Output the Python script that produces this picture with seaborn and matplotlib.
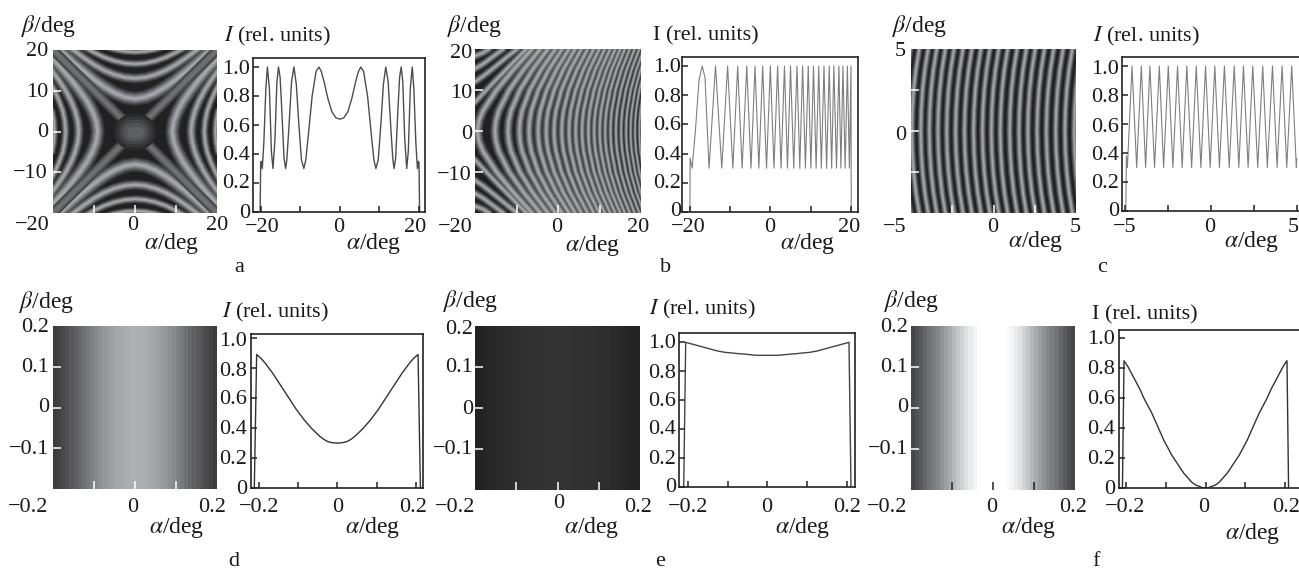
import numpy as np
import matplotlib
matplotlib.use('Agg')
import matplotlib.pyplot as plt
from matplotlib.colors import LinearSegmentedColormap
import seaborn as sns

W, H = 1299, 570

# --- line profiles ---
# a: right half of a symmetric curve
a_alpha = [0, 1, 2, 3, 4, 4.7, 5.3, 6, 7, 8, 8.6, 9.1, 9.7, 10.4, 11, 11.6, 12.2, 12.9, 13.4, 13.7,
           14.1, 14.7, 15.1, 15.5, 15.9, 16.4, 16.9, 17.3, 17.8, 18.3, 18.7, 19.2, 19.6, 19.85, 20, 20.15]
a_int = [.64, .65, .69, .78, .90, .97, 1, .97, .80, .52, .36, .30, .36, .62, .88, 1, .90, .57, .36, .30,
         .37, .72, .93, 1, .90, .50, .30, .42, .85, 1, .85, .48, .30, .35, .34, 0]

b_head_x = [-19.95, -19.9, -19.4, -18.6, -17.7, -16.9, -16.2]
b_head_y = [0, .37, .30, .55, .90, 1, .92]
b_troughs = [-15.2, -12.05, -9.3, -7, -4.8, -2.85, -.95, .9, 2.65, 4.25, 5.8, 7.3, 8.7, 10.05, 11.35,
             12.65, 13.95, 15.2, 16.4, 17.5, 18.55, 19.6]
b_peaks = [-13.6, -10.6, -8.1, -5.85, -3.8, -1.9, 0, 1.8, 3.5, 5, 6.6, 8, 9.4, 10.7, 12, 13.3,
           14.6, 15.75, 17, 18, 19.1, 20]
b_tail_x = [20.03, 20.05]
b_tail_y = [.5, 0]

c_head_x = [-4.95, -4.92, -4.86]
c_head_y = [0, .38, .30]
c_peaks = [-4.59, -4.05, -3.55, -3, -2.48, -1.94, -1.4, -.85, -.31, .23, .79, 1.36, 1.9, 2.44, 3.02, 3.59, 4.15, 4.71]
c_troughs = [-4.32, -3.8, -3.28, -2.75, -2.21, -1.67, -1.12, -.58, -.04, .5, 1.07, 1.63, 2.17, 2.73, 3.29, 3.86, 4.42, 4.98]

# d, e, f: half profiles, same cells feed the heatmaps
cell_alpha = [.005, .015, .025, .035, .045, .055, .065, .075, .085, .095,
              .105, .115, .125, .135, .145, .155, .165, .175, .185, .195]
d_int = [.30, .303, .31, .325, .345, .37, .395, .425, .455, .49, .525, .565, .605, .645, .685, .725, .765, .80, .835, .865]
e_int = [.91, .91, .91, .912, .915, .918, .92, .922, .925, .928, .93, .935, .94, .947, .955, .962, .97, .977, .985, .992]
f_int = [0, .01, .02, .04, .07, .10, .14, .18, .22, .27, .32, .38, .44, .50, .55, .60, .66, .71, .76, .81]
d_edge = [(.206, .89), (.212, 0)]
e_edge = [(.205, 1.0), (.21, 0)]
f_edge = [(.205, .85), (.209, 0)]

# --- bright fringes in the images (deg) ---
# a: right half of each fringe above the centre, left/right ones as alpha against beta
a_step = [0, 2.5, 5, 7.5, 10, 12.5, 15, 17.5, 20]
a_top = [[8.06, 8.44, 9.49, 10.97, 12.8, 14.84, 17, 19.3, 21.6],
         [13.04, 13.28, 13.96, 15, 16.4, 18.1, 19.95, 21.8],
         [16.58, 16.77, 17.32, 18.2, 19.4, 20.8],
         [19.5, 19.65, 20.1, 20.9]]
a_side = [[9.11, 9.45, 10.4, 11.75, 13.5, 15.4, 17.5, 19.8, 22],
          [13.7, 13.94, 14.6, 15.6, 16.9, 18.5, 20.3],
          [16.9, 17.1, 17.6, 18.5, 19.6, 20.9],
          [19.6, 19.75, 20.2]]
a_top_width = [14, 10, 8, 7]
a_side_width = [14, 10, 8, 7]

# b: upper half of each fringe, alpha at these beta values
b_beta = [0, 2.5, 5, 10, 15, 20]
b_fringes = [
    [-19.4, -19.04, -18.05, -14.81, -10.71, -6.23], [-15.2, -14.96, -14.26, -11.76, -8.28, -4.25],
    [-12.05, -11.86, -11.29, -9.17, -6.11, -2.42], [-9.3, -9.13, -8.64, -6.79, -4.03, -.62],
    [-7, -6.85, -6.41, -4.74, -2.19, 1], [-4.8, -4.67, -4.27, -2.74, -.37, 2.63],
    [-2.85, -2.73, -2.36, -.93, 1.28, 4.13], [-.95, -.84, -.49, .84, 2.93, 5.64],
    [.9, 1.01, 1.33, 2.58, 4.56, 7.15], [2.65, 2.75, 3.05, 4.24, 6.12, 8.6],
    [4.25, 4.35, 4.64, 5.76, 7.57, 9.95], [5.8, 5.89, 6.17, 7.25, 8.98, 11.28],
    [7.3, 7.39, 7.65, 8.69, 10.35, 12.57], [8.7, 8.78, 9.04, 10.04, 11.65, 13.8],
    [10.05, 10.13, 10.38, 11.34, 12.9, 15], [11.35, 11.43, 11.67, 12.6, 14.1, 16.1],
    [12.65, 12.73, 12.96, 13.86, 15.33, 17.3], [13.95, 14.02, 14.25, 15.12, 16.55, 18.47],
    [15.2, 15.27, 15.49, 16.34, 17.73, 19.6], [16.4, 16.47, 16.68, 17.51, 18.87, 20.7],
    [17.5, 17.57, 17.77, 18.59, 19.9, 21.7], [18.55, 18.62, 18.82, 19.61, 20.9, 22.65],
    [19.6, 19.67, 19.86, 20.64, 21.9, 23.63],
]
# b: fringes leaving the left edge near the corners
b_corner_x = [[-20, -18, -15, -12, -9, -7.6], [-20, -18, -15, -12, -9.8], [-20, -18, -16, -13.2], [-20, -18, -16.6]]
b_corner_y = [[7, 9.2, 12.4, 15.5, 18.6, 20], [12, 13.4, 15.8, 18.3, 20], [15.2, 16.4, 17.9, 20], [18.3, 19.1, 20]]

# c: upper half of each fringe, alpha at these beta values
c_beta = [0, 1.25, 2.5, 3.75, 5]
c_fringes = [
    [-5.49, -5.46, -5.38, -5.24, -5.04], [-4.95, -4.92, -4.84, -4.7, -4.5], [-4.41, -4.38, -4.3, -4.16, -3.96],
    [-3.89, -3.86, -3.78, -3.64, -3.44], [-3.37, -3.34, -3.26, -3.12, -2.92], [-2.84, -2.81, -2.73, -2.59, -2.39],
    [-2.3, -2.27, -2.19, -2.05, -1.85], [-1.76, -1.73, -1.65, -1.51, -1.31], [-1.21, -1.18, -1.1, -.96, -.76],
    [-.67, -.64, -.56, -.42, -.22], [-.13, -.1, -.02, .12, .32], [.41, .44, .52, .66, .86],
    [.98, 1.01, 1.09, 1.23, 1.43], [1.54, 1.57, 1.65, 1.79, 1.99], [2.08, 2.11, 2.19, 2.33, 2.53],
    [2.64, 2.67, 2.75, 2.89, 3.09], [3.2, 3.23, 3.31, 3.45, 3.65], [3.77, 3.8, 3.88, 4.02, 4.22],
    [4.33, 4.36, 4.44, 4.58, 4.78], [4.89, 4.92, 5, 5.14, 5.34],
]

sns.set_style('white')
plt.rcParams['font.family'] = ['Liberation Serif', 'DejaVu Serif']
plt.rcParams['mathtext.fontset'] = 'stix'

fig = plt.figure(figsize=(W / 100, H / 100), dpi=100)
fringe_cmap = LinearSegmentedColormap.from_list(
    'fringe', [(0, '#ffffff'), (.03, '#ffffff'), (.3, '#acaeb2'), (1, '#212121')])
DARK = '#212121'
LAYERS = [(1.0, '#39393a'), (.8, '#525254'), (.6, '#6c6d6f'), (.42, '#87888a'), (.22, '#a3a4a7')]


def px_axes(x0, y0, x1, y1):
    return fig.add_axes([x0 / W, 1 - y1 / H, (x1 - x0) / W, (y1 - y0) / H])


def label(x, y, s, ha='center', size=16):
    fig.text(x / W, 1 - y / H, s, ha=ha, va='center', fontsize=size, color='#1a1a1a')


def stroke(ax, xs, ys, colour, width_px):
    sns.lineplot(x=xs, y=ys, sort=False, estimator=None, color=colour, linewidth=width_px * .72,
                 ax=ax, legend=False, solid_capstyle='round')


def draw_fringes(ax, curves):
    # every outer layer first, so one fringe's halo never covers its neighbour's core
    for scale, colour in LAYERS:
        for xs, ys, width in curves:
            stroke(ax, xs, ys, colour, width * scale)


def heat_ticks(ax, xt, yt, bottom='white'):
    ax.set_axisbelow(False)
    ax.set_xticks(xt)
    ax.set_yticks(yt)
    ax.tick_params(axis='x', direction='in', length=5.5, width=1.1, color=bottom, bottom=True, labelbottom=False)
    ax.tick_params(axis='y', direction='in', length=5.5, width=1.1, color='white', left=True, labelleft=False)
    for s in ax.spines.values():
        s.set_visible(False)
    ax.set_xlabel('')
    ax.set_ylabel('')


def fringe_axes(box, lim):
    ax = px_axes(*box)
    ax.set_facecolor(DARK)
    ax.set_xlim(-lim, lim)
    ax.set_ylim(-lim, lim)
    return ax


def strip_axes(box, half, bottom='white'):
    ax = px_axes(*box)
    row = list(half[::-1]) + list(half)
    sns.heatmap([row], cmap=fringe_cmap, vmin=0, vmax=1, cbar=False, ax=ax, xticklabels=False, yticklabels=False)
    n = len(row)
    heat_ticks(ax, [n * .25, n * .5, n * .75], [.25, .5, .75], bottom)


def line_axes(box, xs, ys, xt, x_left, x_right, y_one, y_zero, colour='#4d4d4d', lw=1.0):
    x0, y0, x1, y1 = box
    ax = px_axes(*box)
    sns.lineplot(x=xs, y=ys, sort=False, estimator=None, color=colour, linewidth=lw, ax=ax, legend=False)
    unit = (xt[-1] - xt[0]) / (x_right - x_left)
    ax.set_xlim(xt[0] + (x0 - x_left) * unit, xt[0] + (x1 - x_left) * unit)
    ax.set_ylim(0, (y_zero - y0) / (y_zero - y_one))
    ax.set_axisbelow(False)
    ax.set_xticks(xt)
    ax.set_yticks([0, .2, .4, .6, .8, 1])
    ax.tick_params(direction='in', length=4.5, width=1.1, color='#222222', bottom=True, left=True,
                   labelbottom=False, labelleft=False)
    ax.set_xlabel('')
    ax.set_ylabel('')
    for s in ax.spines.values():
        s.set_linewidth(1.2)
        s.set_color('#222222')


def interleave(first, second):
    out = []
    for i in range(max(len(first), len(second))):
        if i < len(first):
            out.append(first[i])
        if i < len(second):
            out.append(second[i])
    return out


def mirrored(half_x, half_y, edge):
    xs = [-e[0] for e in edge[::-1]] + [-v for v in half_x[::-1]] + list(half_x) + [e[0] for e in edge]
    ys = [e[1] for e in edge[::-1]] + list(half_y[::-1]) + list(half_y) + [e[1] for e in edge]
    return xs, ys


def both_sides(values):
    return [-v for v in values[::-1]] + list(values)


def y_numbers(right, ys):
    for y, s in zip(ys, ['1.0', '0.8', '0.6', '0.4', '0.2', '0']):
        label(right, y, s, ha='right')


# --- panel a ---
ax = fringe_axes((53, 50, 217, 213), 20)
curves = []
for row, w in zip(a_top, a_top_width):
    steps = a_step[:len(row)]
    for sy in (-1, 1):
        curves.append((both_sides(steps), [sy * v for v in row[::-1] + row], w))
for row, w in zip(a_side, a_side_width):
    steps = a_step[:len(row)]
    for sx in (-1, 1):
        curves.append(([sx * v for v in row[::-1] + row], both_sides(steps), w))
draw_fringes(ax, curves)
# mid-grey cross through the centre
for width, colour in [(10, '#444445'), (7, '#58595b'), (4, '#6e6f71')]:
    for sx in (-1, 1):
        stroke(ax, [-20 * sx, 20 * sx], [-20, 20], colour, width)
for width, colour in [(36, '#2c2c2d'), (30, '#38383a'), (24, '#454647'), (18, '#525355'), (11, '#5e5f61')]:
    stroke(ax, [-.8, .8], [0, 0], colour, width)
heat_ticks(ax, [-10, 0, 10], [-10, 0, 10])
ax_x = list(-np.array(a_alpha[::-1])) + a_alpha
ax_y = a_int[::-1] + a_int
line_axes((253, 58, 425, 212), ax_x, ax_y, [-20, -10, 0, 10, 20], 260.7, 419, 67, 212)

label(49, 26, r'$\beta$/deg', size=17)
for x, y, s, ha in [(48, 51, '20', 'right'), (48, 92, '10', 'right'), (48, 132, '0', 'right'), (48, 173, '\u221210', 'right'),
                    (32, 226, '\u221220', 'center'), (133, 226, '0', 'center'), (217, 226, '20', 'center')]:
    label(x, y, s, ha)
label(172, 244, r'$\alpha$/deg', size=17)
label(277, 36, r'$\mathit{I}$ (rel. units)')
y_numbers(250, [69, 98, 127, 155, 184, 213])
for x, s in [(262, '\u221220'), (339, '0'), (415, '20')]:
    label(x, 227, s)
label(374, 243, r'$\alpha$/deg', size=17)
label(239, 268, 'a')

# --- panel b ---
ax = fringe_axes((475, 49, 641, 213), 20)
widths = np.linspace(10, 3.8, len(b_fringes))
curves = [(row[::-1] + row, both_sides(b_beta), w) for row, w in zip(b_fringes, widths)]
for xs, ys in zip(b_corner_x, b_corner_y):
    for sy in (-1, 1):
        curves.append((xs, [sy * v for v in ys], 8))
draw_fringes(ax, curves)
heat_ticks(ax, [-10, 0, 10], [-10, 0, 10])
bx = b_head_x + interleave(b_troughs, b_peaks) + b_tail_x
by = b_head_y + interleave([.30] * len(b_troughs), [1.0] * len(b_peaks)) + b_tail_y
line_axes((682, 57, 858, 212), bx, by, [-20, -10, 0, 10, 20], 689.7, 851, 66, 212, colour='#7f7f7f', lw=.8)

label(475, 26, r'$\beta$/deg', size=17)
for x, y, s, ha in [(472, 53, '20', 'right'), (472, 93, '10', 'right'), (472, 134, '0', 'right'), (472, 175, '\u221210', 'right'),
                    (455, 227, '\u221220', 'center'), (557, 227, '0', 'center'), (638, 227, '20', 'center')]:
    label(x, y, s, ha)
label(593, 246, r'$\alpha$/deg', size=17)
label(706, 36, 'I (rel. units)')
y_numbers(681, [68, 97, 126, 155, 184, 212])
for x, s in [(688, '\u221220'), (770, '0'), (849, '20')]:
    label(x, 228, s)
label(808, 243, r'$\alpha$/deg', size=17)
label(666, 267, 'b')

# --- panel c ---
ax = fringe_axes((911, 49, 1076, 213), 5)
draw_fringes(ax, [(row[::-1] + row, both_sides(c_beta), 7) for row in c_fringes])
heat_ticks(ax, [-2.5, 0, 2.5], [-2.5, 0, 2.5])
cx = c_head_x + interleave(c_peaks, c_troughs) + [5.0]
cy = c_head_y + interleave([1.0] * len(c_peaks), [.30] * len(c_troughs)) + [.36]
line_axes((1122, 57, 1303, 211), cx, cy, [-5, -2.5, 0, 2.5, 5], 1125, 1296.7, 66, 211, colour='#7f7f7f', lw=.8)

label(920, 26, r'$\beta$/deg', size=17)
for x, y, s, ha in [(906, 52, '5', 'right'), (906, 135, '0', 'right'), (895, 228, '\u22125', 'center'),
                    (993, 228, '0', 'center'), (1075, 228, '5', 'center')]:
    label(x, y, s, ha)
label(1036, 242, r'$\alpha$/deg', size=17)
label(1146, 36, r'$\mathit{I}$ (rel. units)')
y_numbers(1119, [69, 98, 127, 155, 184, 212])
for x, s in [(1125, '\u22125'), (1210, '0'), (1293, '5')]:
    label(x, 228, s)
label(1252, 242, r'$\alpha$/deg', size=17)
label(1102, 267, 'c')

# --- panel d ---
strip_axes((53, 326, 217, 489), d_int)
dx, dy = mirrored(cell_alpha, d_int, d_edge)
line_axes((251, 334, 423, 488), dx, dy, [-.2, -.1, 0, .1, .2], 259, 415.7, 338, 488, colour='#333333')
label(47, 302, r'$\beta$/deg', size=17)
for x, y, s, ha in [(49, 328, '0.2', 'right'), (49, 368, '0.1', 'right'), (49, 408, '0', 'right'), (49, 450, '\u22120.1', 'right'),
                    (28, 508, '\u22120.2', 'center'), (133, 508, '0', 'center'), (212, 508, '0.2', 'center')]:
    label(x, y, s, ha)
label(177, 528, r'$\alpha$/deg', size=17)
label(275, 312, r'$\mathit{I}$ (rel. units)')
y_numbers(247, [341, 371, 400, 430, 459, 489])
for x, s in [(259, '\u22120.2'), (338, '0'), (413, '0.2')]:
    label(x, 508, s)
label(373, 528, r'$\alpha$/deg', size=17)
label(234, 562, 'd')

# --- panel e ---
strip_axes((475, 326, 640, 490), e_int)
ex, ey = mirrored(cell_alpha, e_int, e_edge)
line_axes((679, 333, 855, 487), ex, ey, [-.2, -.1, 0, .1, .2], 687.7, 847, 342.3, 487, colour='#444444')
label(471, 301, r'$\beta$/deg', size=17)
for x, y, s, ha in [(473, 329, '0.2', 'right'), (473, 368, '0.1', 'right'), (473, 410, '0', 'right'), (473, 450, '\u22120.1', 'right'),
                    (455, 508, '\u22120.2', 'center'), (559, 504, '0', 'center'), (638, 508, '0.2', 'center')]:
    label(x, y, s, ha)
label(592, 528, r'$\alpha$/deg', size=17)
label(702, 309, r'$\mathit{I}$ (rel. units)')
y_numbers(676, [344, 373, 401, 430, 459, 488])
for x, s in [(688, '\u22120.2'), (767, '0'), (847, '0.2')]:
    label(x, 507, s)
label(803, 528, r'$\alpha$/deg', size=17)
label(660, 562, 'e')

# --- panel f ---
strip_axes((911, 326, 1075, 490), f_int, bottom='#222222')
fx, fy = mirrored(cell_alpha, f_int, f_edge)
line_axes((1119, 330, 1303, 488), fx, fy, [-.2, -.1, 0, .1, .2], 1126, 1285, 338.3, 488, colour='#333333')
label(912, 301, r'$\beta$/deg', size=17)
for x, y, s, ha in [(908, 328, '0.2', 'right'), (908, 368, '0.1', 'right'), (908, 408, '0', 'right'), (908, 450, '\u22120.1', 'right'),
                    (887, 508, '\u22120.2', 'center'), (992, 508, '0', 'center'), (1073, 508, '0.2', 'center')]:
    label(x, y, s, ha)
label(1029, 528, r'$\alpha$/deg', size=17)
label(1145, 315, 'I (rel. units)')
y_numbers(1115, [340, 370, 400, 430, 459, 489])
for x, s in [(1125, '\u22120.2'), (1204, '0'), (1286, '0.2')]:
    label(x, 507, s)
label(1253, 533, r'$\alpha$/deg', size=17)
label(1096, 562, 'f')

fig.savefig('out.png', dpi=100)
